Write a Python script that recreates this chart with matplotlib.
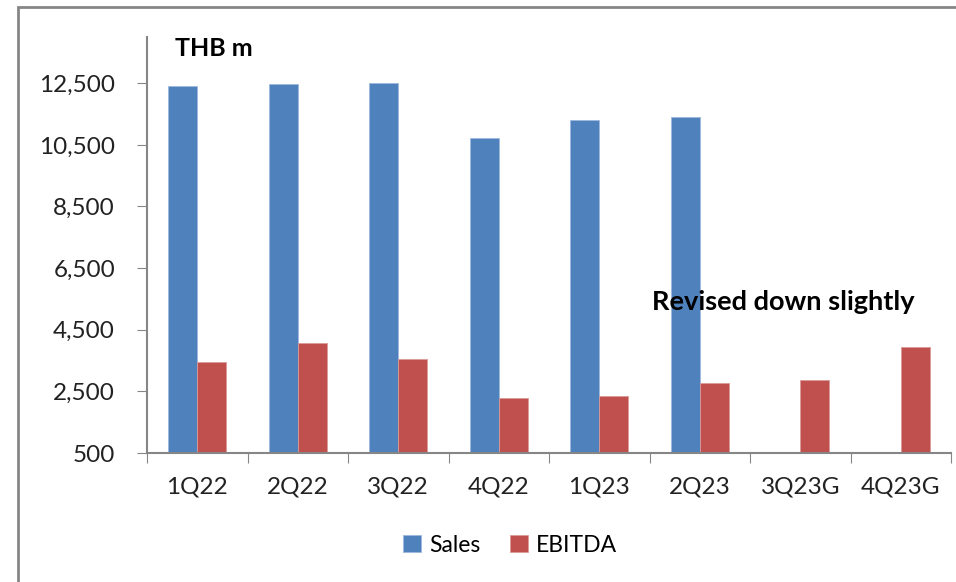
import matplotlib.pyplot as plt
import matplotlib.patches as mpatches
from matplotlib.ticker import FuncFormatter
import numpy as np

# data (THB m)
quarters = ["1Q22", "2Q22", "3Q22", "4Q22", "1Q23", "2Q23", "3Q23G", "4Q23G"]
sales = [12425, 12460, 12500, 10715, 11300, 11420, np.nan, np.nan]
ebitda = [3440, 4060, 3560, 2275, 2350, 2760, 2860, 3930]

blue = "#4F81BD"
red = "#C0504D"
grey = "#868686"
plt.rcParams['font.family'] = ['Lato', 'DejaVu Sans']

fig = plt.figure(figsize=(9.56, 5.82), dpi=100)
ax = fig.add_axes([147/956, 1-453/582, 804/956, 416/582])

x = np.arange(len(quarters))
w = 0.29
ax.bar(x - w/2, sales, w, color=blue, edgecolor="#9DB8DC", linewidth=0.6, label="Sales")
ax.bar(x + w/2, ebitda, w, color=red, edgecolor="#DB9A98", linewidth=0.6, label="EBITDA")

ax.set_xlim(-0.5, len(quarters) - 0.5)
ax.set_ylim(500, 14000)
ax.set_yticks(np.arange(500, 12501, 2000))
ax.yaxis.set_major_formatter(FuncFormatter(lambda v, p: f"{int(v):,}"))
ax.set_xticks(np.arange(-0.5, len(quarters), 1.0))
ax.set_xticklabels([])
ax.set_xticks(x, minor=True)
ax.set_xticklabels(quarters, minor=True)
ax.tick_params(axis='x', which='major', length=7, color=grey, direction='out')
ax.tick_params(axis='x', which='minor', length=0, pad=17, labelsize=17.5, colors="#222222")
ax.tick_params(axis='y', length=7, color=grey, pad=16, labelsize=17.5, labelcolor="#222222")
for s in ["top", "right"]:
    ax.spines[s].set_visible(False)
for s in ["left", "bottom"]:
    ax.spines[s].set_color(grey)
    ax.spines[s].set_linewidth(1.5)

fig.text(175/956, 1-48/582, "THB m", fontsize=18, fontweight='bold', va='center', ha='left')
fig.text(652/956, 1-302/582, "Revised down slightly", fontsize=19.5, fontweight='bold', va='center', ha='left')

fig.legend(loc='center', bbox_to_anchor=(510/956, 1-545/582), ncol=2, frameon=False,
           fontsize=16.5, handlelength=0.8, handleheight=0.8, handletextpad=0.35, columnspacing=1.3)

# outer chart border
fig.patches.append(mpatches.Rectangle((18/956, -0.05), 1.0, 1 - 7/582 + 0.05, transform=fig.transFigure,
                                      fill=False, edgecolor=grey, linewidth=2))

fig.savefig("out.png", dpi=100, facecolor="white")
